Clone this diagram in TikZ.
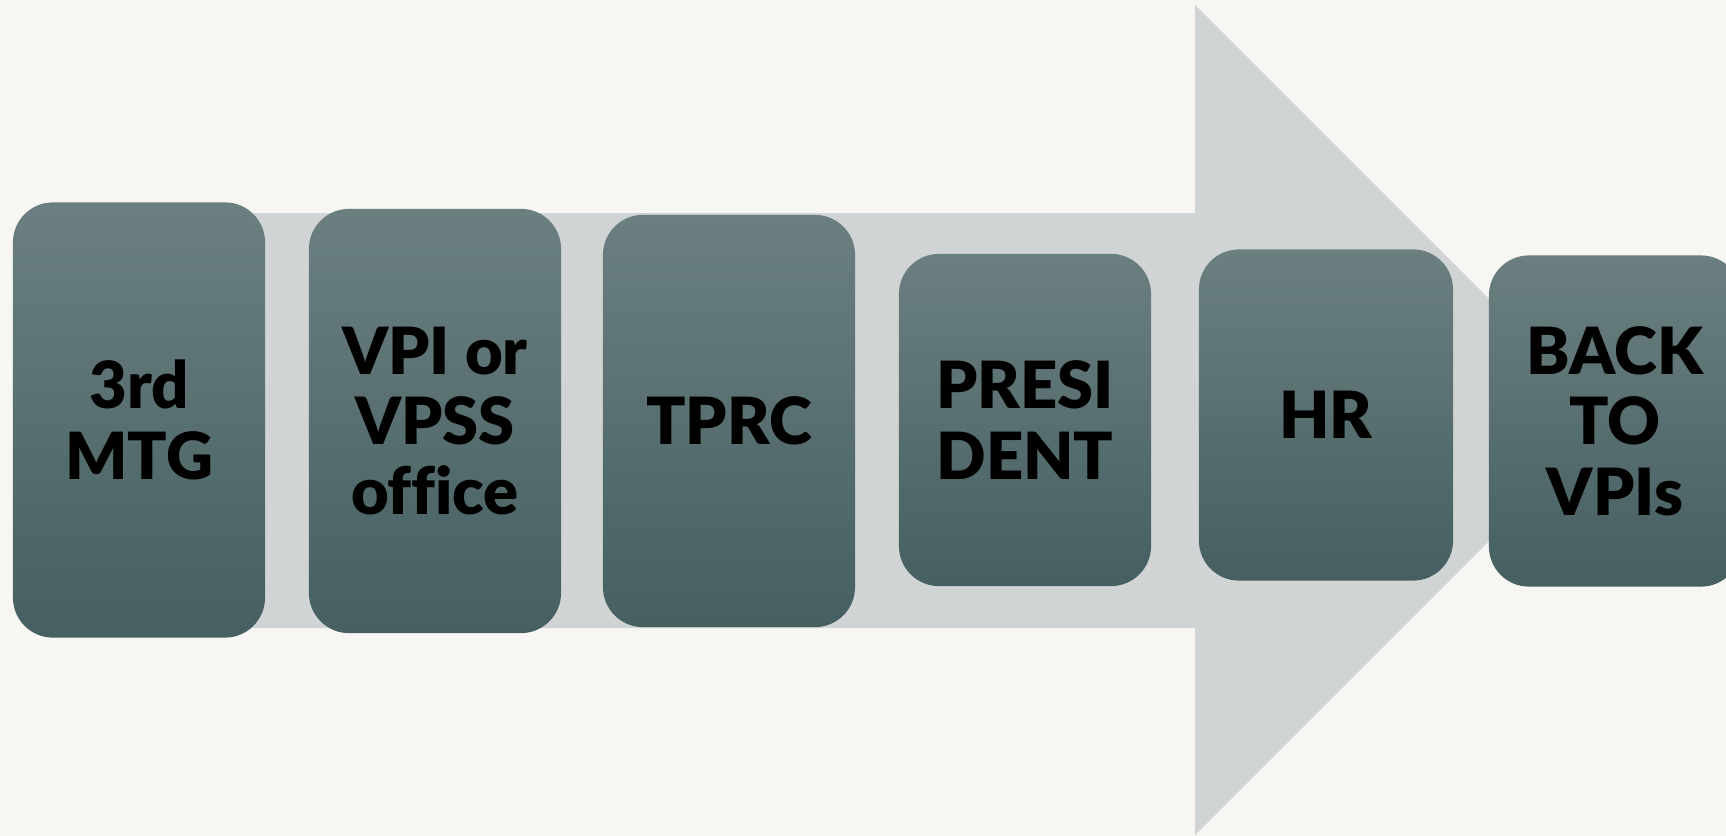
\documentclass[tikz,border=0pt]{standalone}
\usepackage{fontspec}
\setmainfont{Lato}[BoldFont={Lato Black}, Ligatures=NoCommon]
\usepackage{tikz}

\definecolor{paper}{HTML}{F7F6F2}
\definecolor{arrowgrey}{HTML}{D1D4D4}
\definecolor{stepTop}{HTML}{6B7F80}
\definecolor{stepBot}{HTML}{465F61}

\begin{document}
\begin{tikzpicture}[x=0.01cm, y=-0.01cm]
	\tikzstyle{stage} = [rectangle, rounded corners=4mm, inner sep=0pt, minimum width=2.52cm, top color=stepTop, bottom color=stepBot, draw=none, align=center, font=\fontsize{18.5}{20}\selectfont\bfseries, text=black]
	% page and the big arrow behind the stages
	\fill[paper] (0,0) rectangle (1726,836);
	\useasboundingbox (0,0) rectangle (1726,836);
	\fill[arrowgrey] (40,213) -- (1195,213) -- (1195,5) -- (1610,420) -- (1195,835) -- (1195,628) -- (40,628) -- cycle;
	% the stages
	\node[stage, minimum height=4.35cm] (mtg) at (139,420) {3rd\\MTG};
	\node[stage, minimum height=4.24cm] (vpi) at (435,421) {VPI or\\VPSS\\office};
	\node[stage, minimum height=4.12cm] (tprc) at (729,421) {TPRC};
	\node[stage, minimum height=3.32cm] (pres) at (1025,420) {PRESI\\DENT};
	\node[stage, minimum height=3.31cm, minimum width=2.54cm] (hr) at (1326,415) {HR};
	\node[stage, minimum height=3.31cm] (back) at (1615,421) {BACK\\TO\\VPIs};
\end{tikzpicture}
\end{document}
